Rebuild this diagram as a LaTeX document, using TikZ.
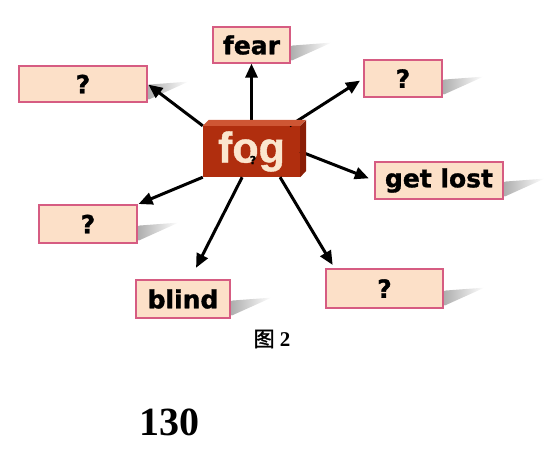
\documentclass[tikz,border=0pt]{standalone}
\usepackage{fontspec}
\setmainfont{Liberation Serif}
\newfontfamily\heavy[FakeBold=1.2]{DejaVu Sans Bold}
\newfontfamily\cjk[FakeBold=1.5]{Noto Sans CJK SC}
\newfontfamily\fogfont[FakeBold=1]{Liberation Sans Bold}
\usetikzlibrary{arrows.meta}
\definecolor{peach}{RGB}{252,224,200}
\definecolor{pinkline}{RGB}{214,92,130}
\definecolor{fogfront}{RGB}{176,46,14}
\definecolor{fogtop}{RGB}{206,86,52}
\definecolor{fogside}{RGB}{138,30,6}
\definecolor{fogtext}{RGB}{251,230,206}

\begin{document}
\begin{tikzpicture}[x=1pt,y=-1pt,
  box/.style={draw=pinkline,line width=1.2pt,fill=peach,inner sep=0pt,
    font=\heavy\fontsize{25}{25}\selectfont},
  fogbox/.style={fill=fogfront,inner sep=0pt,minimum width=97pt,minimum height=51pt,
    text=fogtext,font=\fogfont\fontsize{43}{43}\selectfont},
  arr/.style={-{Triangle[length=14pt,width=12pt]},line width=3pt},
  shad/.style={left color=black!32,right color=white,draw=none}]
  \useasboundingbox (0,0) rectangle (545,453);
  % word boxes
  \node[box,minimum width=77pt,minimum height=36pt]  (fear) at (251.5,45)   {fear};
  \node[box,minimum width=128pt,minimum height=36pt] (lt)   at (83,84)      {?};
  \node[box,minimum width=78pt,minimum height=37pt]  (rt)   at (403,78.5)   {?};
  \node[box,minimum width=128pt,minimum height=37pt] (gl)   at (439,180.5)  {get lost};
  \node[box,minimum width=98pt,minimum height=38pt]  (ll)   at (88,224)     {?};
  \node[box,minimum width=94pt,minimum height=38pt]  (bl)   at (183,299)    {blind};
  \node[box,minimum width=117pt,minimum height=39pt] (rb)   at (384.5,288.5){?};
  % shadows
  \foreach \b in {fear,lt,rt,gl,ll,bl,rb}
    \shade[shad] (\b.south east) ++(1,-3) -- ++(0,-15) -- ++(40,-3) -- cycle;
  % centre block
  \node[fogbox] (fog) at (251.5,151.5) {\raisebox{-4pt}{fog}};
  % arrows
  \draw[arr] (fog.north) -- (fear.south);
  \draw[arr,shorten >=1pt] (fog.north west) -- (lt.east);
  \draw[arr,shorten >=4pt] (fog.34) -- (rt.west);
  \draw[arr,shorten >=6pt] (fog.east) -- (gl.west);
  \draw[arr,shorten >=1pt] (fog.south west) -- (ll.north east);
  \draw[arr,shorten >=13pt] (fog.250) -- (bl.70);
  \draw[arr,shorten >=4pt] (fog.-42) -- (rb.158);
  \fill[fogtop] (fog.north west) -- ++(6,-6) -- ++(97,0) -- (fog.north east) -- cycle;
  \fill[fogside] (fog.north east) -- ++(6,-6) -- ++(0,51) -- (fog.south east) -- cycle;
  \node[font=\heavy\fontsize{11}{11}\selectfont] (mark) at (253,160) {?};
  % captions
  \node[font=\fontsize{21}{21}\selectfont] (cap) at (272,339) {{\cjk 图} \textbf{2}};
  \node[font=\bfseries\fontsize{40}{40}\selectfont] (page) at (169,422) {130};
\end{tikzpicture}
\end{document}
